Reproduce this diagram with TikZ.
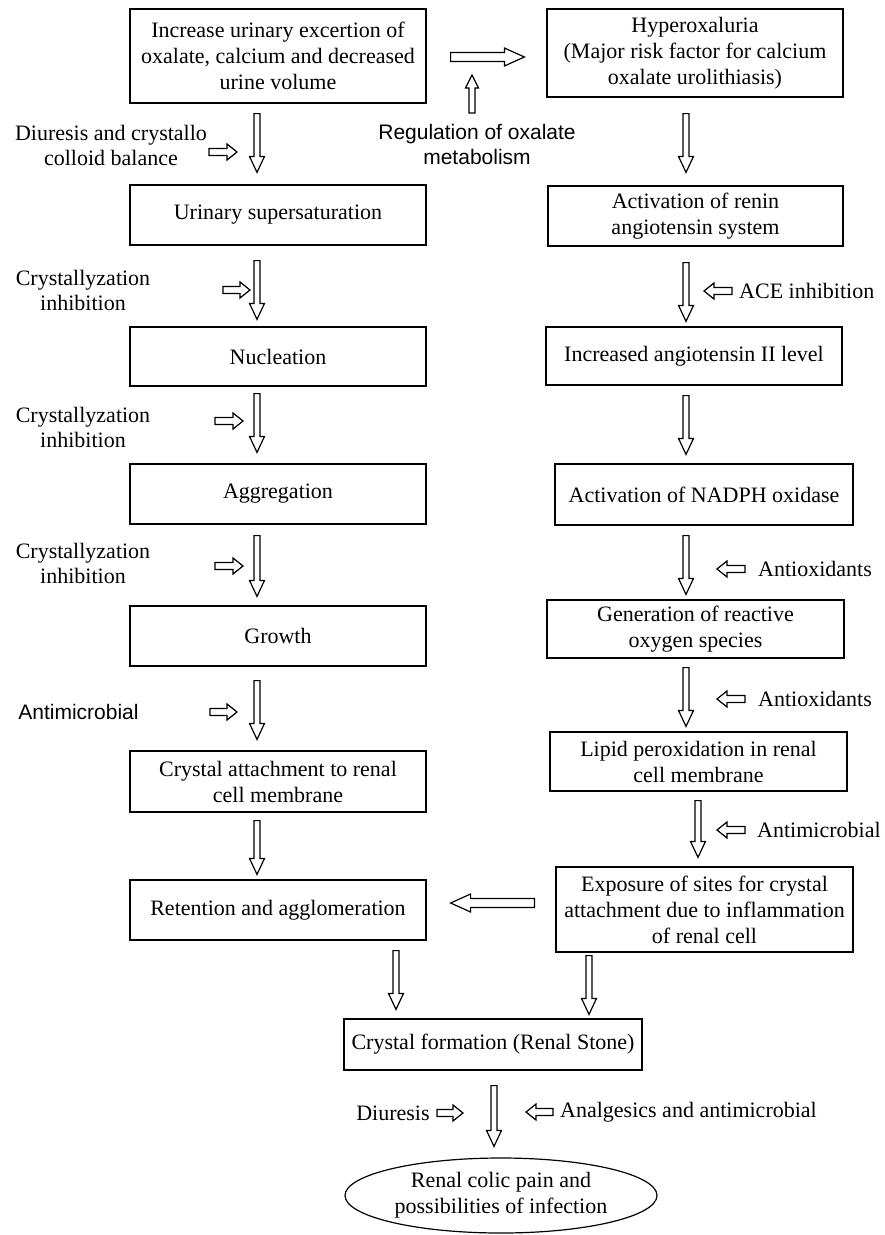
\documentclass[tikz,border=0pt]{standalone}
\usepackage{fontspec}
\setmainfont{Liberation Serif}
\newfontfamily\arialfont{Liberation Sans}
\usetikzlibrary{calc,shapes.geometric}

\tikzset{
  box/.style={draw, line width=1.2pt, align=center, inner sep=0pt, minimum width=296pt, minimum height=60pt, font=\fontsize{22}{26}\selectfont},
  lab/.style={align=center, inner sep=0pt, font=\fontsize{22}{25}\selectfont},
  sanslab/.style={lab, font=\arialfont\fontsize{21}{25}\selectfont},
  blk/.style n args={3}{draw, line width=1.2pt, to path={
    let \p1=(\tikztostart), \p2=(\tikztotarget),
        \n1={atan2(\y2-\y1,\x2-\x1)}, \n2={veclen(\x2-\x1,\y2-\y1)} in
    {[shift={(\p1)}, rotate=\n1]
      (0pt,-#1) -- (\n2-#3,-#1) -- (\n2-#3,-#2) -- (\n2+0pt,0pt)
      -- (\n2-#3,#2) -- (\n2-#3,#1) -- (0pt,#1) -- cycle}}},
  bigarr/.style={blk={3pt}{7.5pt}{16pt}},
  widearr/.style={blk={4.5pt}{9pt}{20pt}},
  uparr/.style={blk={3pt}{6.5pt}{13pt}},
  smallarr/.style={blk={3.5pt}{8pt}{10pt}}
}

\begin{document}
\begin{tikzpicture}[x=1pt, y=-1pt]
\useasboundingbox (0,0) rectangle (885,1235);

% left column
\node[box, minimum height=94pt] (L1) at (278,56) {Increase urinary excertion of\\oxalate, calcium and decreased\\urine volume};
\node[box] (L2) at (278,215) {Urinary supersaturation};
\node[box, minimum height=59pt] (L3) at (278,356.5) {Nucleation};
\node[box] (L4) at (278,494) {Aggregation};
\node[box] (L5) at (278,636) {Growth};
\node[box, minimum height=61pt] (L6) at (278,781.5) {Crystal attachment to renal\\cell membrane};
\node[box] (L7) at (278,910) {Retention and agglomeration};

% right column
\node[box, minimum height=88pt] (R1) at (695,53) {Hyperoxaluria\\(Major risk factor for calcium\\oxalate urolithiasis)};
\node[box, minimum width=295pt] (R2) at (695.5,216) {Activation of renin\\angiotensin system};
\node[box, minimum height=58pt] (R3) at (694,356) {Increased angiotensin II level};
\node[box, minimum width=298pt, minimum height=61pt] (R4) at (704,494.5) {Activation of NADPH oxidase};
\node[box, minimum width=297pt, minimum height=58pt] (R5) at (695.5,629) {Generation of reactive\\oxygen species};
\node[box, minimum width=297pt, minimum height=59pt] (R6) at (698.5,761.5) {Lipid peroxidation in renal\\cell membrane};
\node[box, minimum width=297pt, minimum height=85pt] (R7) at (704.5,909.5) {Exposure of sites for crystal\\attachment due to inflammation\\of renal cell};

% bottom
\node[box, minimum width=298pt, minimum height=51pt] (CF) at (493,1044.5) {Crystal formation (Renal Stone)};
\node[box, ellipse, minimum width=312pt, minimum height=75pt] (EL) at (501,1195.5) {Renal colic pain and\\possibilities of infection};

% side labels
\node[lab] (dcb) at (111,145) {Diuresis and crystallo\\colloid balance};
\node[lab] (ci1) at (83,290) {Crystallyzation\\inhibition};
\node[lab] (ci2) at (83,427) {Crystallyzation\\inhibition};
\node[lab] (ci3) at (83,563) {Crystallyzation\\inhibition};
\node[sanslab] (am1) at (78.5,712) {Antimicrobial};
\node[sanslab] (reg) at (477,144) {Regulation of oxalate\\metabolism};
\node[lab, anchor=west] (ace) at (739,291) {ACE inhibition};
\node[lab, anchor=west] (ao1) at (758,569) {Antioxidants};
\node[lab, anchor=west] (ao2) at (758,699) {Antioxidants};
\node[lab, anchor=west] (am2) at (757,830) {Antimicrobial};
\node[lab] (diu) at (393,1113) {Diuresis};
\node[lab, anchor=west] (ana) at (560,1112) {Analgesics and antimicrobial};

% main flow
\draw[bigarr] ([xshift=-21pt,yshift=-10pt]L1.south) to ([xshift=-21pt,yshift=12pt]L2.north);
\draw[bigarr] ([xshift=-21pt,yshift=-15pt]L2.south) to ([xshift=-21pt,yshift=7pt]L3.north);
\draw[bigarr] ([xshift=-21pt,yshift=-7pt]L3.south) to ([xshift=-21pt,yshift=11pt]L4.north);
\draw[bigarr] ([xshift=-21pt,yshift=-11pt]L4.south) to ([xshift=-21pt,yshift=9pt]L5.north);
\draw[bigarr] ([xshift=-21pt,yshift=-14pt]L5.south) to ([xshift=-21pt,yshift=11pt]L6.north);
\draw[bigarr] ([xshift=-21pt,yshift=-8pt]L6.south) to ([xshift=-21pt,yshift=5pt]L7.north);
\draw[bigarr] ([xshift=118pt,yshift=-10pt]L7.south) to ([xshift=-97pt,yshift=9pt]CF.north);

\draw[bigarr] ([xshift=-9pt,yshift=-16pt]R1.south) to ([xshift=-9.5pt,yshift=13pt]R2.north);
\draw[bigarr] ([xshift=-9.5pt,yshift=-16pt]R2.south) to ([xshift=-8pt,yshift=5pt]R3.north);
\draw[bigarr] ([xshift=-8pt,yshift=-10pt]R3.south) to ([xshift=-18pt,yshift=9pt]R4.north);
\draw[bigarr] ([xshift=-18pt,yshift=-10pt]R4.south) to ([xshift=-9.5pt,yshift=5pt]R5.north);
\draw[bigarr] ([xshift=-9.5pt,yshift=-9pt]R5.south) to ([xshift=-12.5pt,yshift=5pt]R6.north);
\draw[bigarr] ([xshift=-0.5pt,yshift=-9pt]R6.south) to ([xshift=-6.5pt,yshift=9pt]R7.north);
\draw[bigarr] ([xshift=-115.5pt,yshift=-3pt]R7.south) to ([xshift=96pt,yshift=4pt]CF.north);
\draw[bigarr] ([xshift=1pt,yshift=-15pt]CF.south) to ([xshift=-7pt,yshift=11pt]EL.north);

\draw[widearr] ([xshift=24pt,yshift=-1pt]L1.east) to ([xshift=-22pt,yshift=-4pt]R1.west);
\draw[widearr] ([xshift=-21pt,yshift=6.5pt]R7.west) to ([xshift=24pt,yshift=7pt]L7.east);

% side arrows
\draw[smallarr] ([xshift=98pt,yshift=-7pt]dcb.center) to ([xshift=126pt,yshift=-7pt]dcb.center);
\draw[smallarr] ([xshift=140pt]ci1.center) to ([xshift=167pt]ci1.center);
\draw[smallarr] ([xshift=132pt,yshift=6pt]ci2.center) to ([xshift=160pt,yshift=6pt]ci2.center);
\draw[smallarr] ([xshift=132pt,yshift=-3pt]ci3.center) to ([xshift=160pt,yshift=-3pt]ci3.center);
\draw[smallarr] ([xshift=131.5pt]am1.center) to ([xshift=158.5pt]am1.center);
\draw[uparr] ([xshift=-5pt,yshift=31pt]reg.center) to ([xshift=-5pt,yshift=69pt]reg.center);
\draw[smallarr] ([xshift=-7pt]ace.west) to ([xshift=-35pt]ace.west);
\draw[smallarr] ([xshift=-13pt]ao1.west) to ([xshift=-41pt]ao1.west);
\draw[smallarr] ([xshift=-13pt]ao2.west) to ([xshift=-41pt]ao2.west);
\draw[smallarr] ([xshift=-12pt]am2.west) to ([xshift=-40pt]am2.west);
\draw[smallarr] ([xshift=44pt]diu.center) to ([xshift=70pt]diu.center);
\draw[smallarr] ([xshift=-7pt]ana.west) to ([xshift=-34pt]ana.west);
\end{tikzpicture}
\end{document}
